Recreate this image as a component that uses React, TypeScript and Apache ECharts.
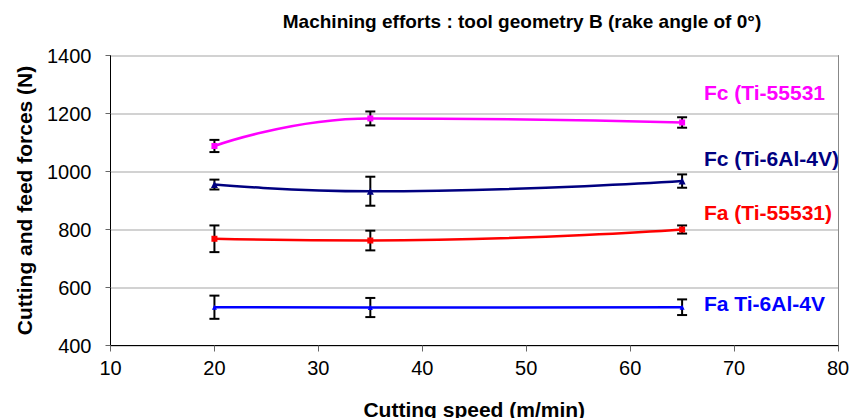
import React, { useEffect, useRef } from "react";
import * as echarts from "echarts";

const FONT = '"Liberation Sans", Arial, Helvetica, sans-serif';

const chartTitle = "Machining efforts : tool geometry B (rake angle of 0°)";
const xAxisName = "Cutting speed (m/min)";
const yAxisName = "Cutting and feed forces (N)";

const speeds = [20, 35, 65];

const fcTi55531 = [1088, 1183, 1169];
const fcTi55531Err = [21, 24, 18];
const fcTi64 = [955, 932, 967];
const fcTi64Err = [17, 50, 23];
const faTi55531 = [768, 762, 800];
const faTi55531Err = [46, 34, 14];
const faTi64 = [532, 531, 532];
const faTi64Err = [40, 33, 27];

const seriesNames = ["Fc (Ti-55531", "Fc (Ti-6Al-4V)", "Fa (Ti-55531)", "Fa Ti-6Al-4V"];
const seriesColors = ["#FF00FF", "#000080", "#FF0000", "#0000FF"];
const seriesSymbols = ["rect", "triangle", "rect", "triangle"];
const seriesSymbolSizes = [6, 7, 6, 5];
const seriesValues = [fcTi55531, fcTi64, faTi55531, faTi64];
const seriesErrors = [fcTi55531Err, fcTi64Err, faTi55531Err, faTi64Err];
const labelY = [92, 158, 212, 303];

export default function App() {
  const ref = useRef<HTMLDivElement>(null);
  useEffect(() => {
    if (!ref.current) return;
    const chart = echarts.init(ref.current, undefined, { renderer: "svg" });

    const errorSeries = seriesValues.map((vals, si) => ({
      type: "custom",
      name: seriesNames[si] + " err",
      z: 2,
      data: speeds.map((s, i) => [s, vals[i] - seriesErrors[si][i], vals[i] + seriesErrors[si][i]]),
      encode: { x: 0, y: [1, 2] },
      renderItem: (params: any, api: any) => {
        const x = api.value(0);
        const lo = api.coord([x, api.value(1)]);
        const hi = api.coord([x, api.value(2)]);
        const w = 5;
        const st = { stroke: "#000", lineWidth: 2 };
        return {
          type: "group",
          children: [
            { type: "line", shape: { x1: lo[0], y1: lo[1], x2: hi[0], y2: hi[1] }, style: st },
            { type: "line", shape: { x1: lo[0] - w, y1: lo[1], x2: lo[0] + w, y2: lo[1] }, style: st },
            { type: "line", shape: { x1: hi[0] - w, y1: hi[1], x2: hi[0] + w, y2: hi[1] }, style: st },
          ],
        };
      },
    }));

    const lineSeries = seriesValues.map((vals, si) => ({
      type: "line",
      name: seriesNames[si],
      z: 3,
      smooth: 0.5,
      data: speeds.map((s, i) => [s, vals[i]]),
      symbol: seriesSymbols[si],
      symbolSize: seriesSymbolSizes[si],
      showAllSymbol: true,
      lineStyle: { color: seriesColors[si], width: 2.5 },
      itemStyle: { color: seriesColors[si] },
    }));

    const labelGraphics = seriesNames.map((n, si) => ({
      type: "text",
      x: 704,
      y: labelY[si],
      style: {
        text: n,
        fill: seriesColors[si],
        font: `bold 21px ${FONT}`,
        align: "left",
        verticalAlign: "middle",
      },
    }));

    chart.setOption({
      animation: false,
      backgroundColor: "#fff",
      textStyle: { fontFamily: FONT },
      grid: {
        left: 110.5,
        right: 14,
        top: 55.5,
        bottom: 72.5,
        containLabel: false,
        outerBoundsMode: "none",
      },
      xAxis: {
        type: "value",
        min: 10,
        max: 80,
        interval: 10,
        name: xAxisName,
        nameLocation: "middle",
        nameGap: 53,
        nameTextStyle: { fontFamily: FONT, fontWeight: "bold", fontSize: 21, color: "#000" },
        axisLine: { show: true, onZero: false, lineStyle: { color: "#000", width: 1 } },
        axisTick: { show: true, inside: false, length: 6, lineStyle: { color: "#666" } },
        axisLabel: { fontFamily: FONT, fontSize: 20, color: "#000", margin: 12, formatter: (v: number) => String(v) },
        splitLine: { show: false },
      },
      yAxis: [
        {
          type: "value",
          min: 400,
          max: 1400,
          interval: 200,
          name: yAxisName,
          nameLocation: "middle",
          nameGap: 76,
          nameRotate: 90,
          nameTextStyle: { fontFamily: FONT, fontWeight: "bold", fontSize: 21, color: "#000" },
          axisLine: { show: true, onZero: false, lineStyle: { color: "#000", width: 1 } },
          axisTick: { show: true, inside: false, length: 5, lineStyle: { color: "#666" } },
          axisLabel: { fontFamily: FONT, fontSize: 20, color: "#000", margin: 19, formatter: (v: number) => String(v) },
          splitLine: { show: true, lineStyle: { color: "#888", type: [1, 1], width: 1.5 } },
        },
        {
          type: "value",
          min: 400,
          max: 1400,
          interval: 200,
          position: "right",
          axisLine: { show: true, onZero: false, lineStyle: { color: "#888", width: 1 } },
          axisTick: { show: false },
          axisLabel: { show: false },
          splitLine: { show: false },
        },
      ],
      graphic: [
        {
          type: "text",
          x: 522,
          y: 21,
          style: {
            text: chartTitle,
            fill: "#000",
            font: `bold 19px ${FONT}`,
            align: "center",
            verticalAlign: "middle",
          },
        },
        ...labelGraphics,
      ],
      series: [...errorSeries, ...lineSeries],
    });
    return () => chart.dispose();
  }, []);
  return (
    <div
      ref={ref}
      style={{ position: "fixed", left: 0, top: 0, width: 852, height: 418, background: "#fff" }}
    />
  );
}
